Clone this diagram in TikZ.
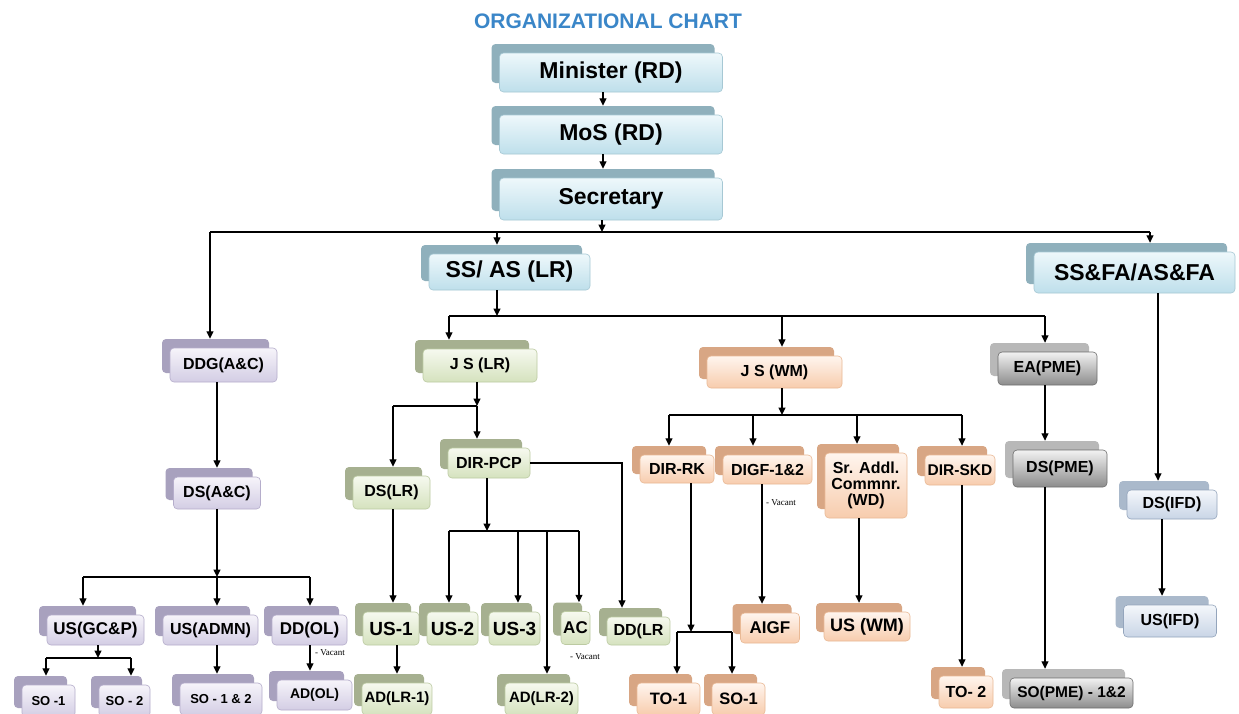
\documentclass[tikz,border=0pt]{standalone}
\usepackage{fontspec}
\setmainfont{Liberation Sans}
\newfontfamily\vacfont{Liberation Serif}
\usetikzlibrary{arrows.meta,calc}
\definecolor{titleblue}{HTML}{3A86C8}
\definecolor{bluB}{HTML}{8FB0BC}\definecolor{bluT}{HTML}{EEF8FB}\definecolor{bluBo}{HTML}{BEDFEB}\definecolor{bluD}{HTML}{A6C8D4}
\definecolor{purB}{HTML}{A8A1BE}\definecolor{purT}{HTML}{F6F4FA}\definecolor{purBo}{HTML}{D3CDE4}\definecolor{purD}{HTML}{B5ADCB}
\definecolor{grnB}{HTML}{A6B090}\definecolor{grnT}{HTML}{F6F9EF}\definecolor{grnBo}{HTML}{D5E2BE}\definecolor{grnD}{HTML}{BCCAA2}
\definecolor{orgB}{HTML}{D8A684}\definecolor{orgT}{HTML}{FFF5EE}\definecolor{orgBo}{HTML}{F7CCAD}\definecolor{orgD}{HTML}{E9B995}
\definecolor{gryB}{HTML}{B8B8B8}\definecolor{gryT}{HTML}{F2F2F2}\definecolor{gryBo}{HTML}{8C8C8C}\definecolor{gryD}{HTML}{6E6E6E}
\definecolor{ifdB}{HTML}{AAB9CB}\definecolor{ifdT}{HTML}{F4F7FB}\definecolor{ifdBo}{HTML}{C9D5E6}\definecolor{ifdD}{HTML}{94A5BC}
\tikzset{
  boxbase/.style={rounded corners=4pt, inner sep=0pt, align=center, font=\bfseries\fontsize{16pt}{16pt}\selectfont},
  fs/.style={font=\bfseries\fontsize{#1pt}{#1pt}\selectfont},
  blub/.style={boxbase, fill=bluB},
  bluf/.style={boxbase, draw=bluD, line width=0.6pt, top color=bluT, bottom color=bluBo},
  purb/.style={boxbase, fill=purB},
  purf/.style={boxbase, draw=purD, line width=0.6pt, top color=purT, bottom color=purBo},
  grnb/.style={boxbase, fill=grnB},
  grnf/.style={boxbase, draw=grnD, line width=0.6pt, top color=grnT, bottom color=grnBo},
  orgb/.style={boxbase, fill=orgB},
  orgf/.style={boxbase, draw=orgD, line width=0.6pt, top color=orgT, bottom color=orgBo},
  gryb/.style={boxbase, fill=gryB},
  gryf/.style={boxbase, draw=gryD, line width=0.6pt, top color=gryT, bottom color=gryBo},
  ifdb/.style={boxbase, fill=ifdB},
  ifdf/.style={boxbase, draw=ifdD, line width=0.6pt, top color=ifdT, bottom color=ifdBo},
  arr/.style={draw=black, line width=1.3pt, -{Triangle[length=7.5pt,width=7pt]}},
  ln/.style={draw=black, line width=1.3pt},
  vac/.style={font=\vacfont\fontsize{9pt}{9pt}\selectfont, inner sep=0pt, anchor=west},
}
% name, colour, cx, cy, w, h, extra style, text
\newcommand\orgbox[8]{%
  \node[#2b, minimum width=#5, minimum height=#6] (#1S) at ({#3-8},{#4-9}) {};
  \node[#2f, minimum width=#5, minimum height=#6, #7] (#1) at (#3,#4) {#8};}
\begin{document}
\begin{tikzpicture}[x=1pt,y=-1pt]
\useasboundingbox (0,0) rectangle (1239,713);
\clip (0,0) rectangle (1239,713);
\fill[white] (0,0) rectangle (1239,713);

\node[font=\bfseries\fontsize{21pt}{21pt}\selectfont, text=titleblue] (title) at (608,21) {ORGANIZATIONAL CHART};

% top
\orgbox{min}{blu}{611}{72.5}{223}{39}{fs=23}{Minister (RD)}
\orgbox{mos}{blu}{611}{134.5}{223}{39}{fs=23}{MoS (RD)}
\orgbox{sec}{blu}{611}{199}{223}{42}{fs=23}{Secretary}
\orgbox{ssas}{blu}{509.5}{272}{161}{36}{fs=23}{SS/ AS (LR)}
\orgbox{ssfa}{blu}{1134.5}{272.5}{201}{41}{fs=23}{SS\&FA/AS\&FA}

% second level
\orgbox{ddg}{pur}{223.5}{365}{107}{34}{}{DDG(A\&C)}
\orgbox{jslr}{grn}{480}{365.5}{114}{33}{}{J S (LR)}
\orgbox{jswm}{org}{774.5}{372}{135}{32}{}{J S (WM)}
\orgbox{ea}{gry}{1047.5}{368.5}{99}{33}{}{EA(PME)}

% purple branch
\orgbox{dsac}{pur}{217}{493}{87}{32}{}{DS(A\&C)}
\orgbox{usgc}{pur}{95.5}{630}{97}{30}{fs=17}{US(GC\&P)}
\orgbox{usad}{pur}{210.5}{630}{95}{30}{}{US(ADMN)}
\orgbox{ddol}{pur}{309.5}{630}{75}{30}{fs=17}{DD(OL)}
\orgbox{so1}{pur}{48.5}{701}{53}{32}{fs=13}{SO -1}
\orgbox{so2}{pur}{124.5}{701}{51}{32}{fs=13}{SO - 2}
\orgbox{so12}{pur}{221}{699}{82}{32}{fs=13}{SO - 1 \& 2}
\orgbox{adol}{pur}{314.5}{695}{75}{30}{fs=14}{AD(OL)}

% green branch
\orgbox{dslr}{grn}{391.5}{492.5}{77}{33}{}{DS(LR)}
\orgbox{dirpcp}{grn}{489}{463}{82}{30}{}{DIR-PCP}
\orgbox{us1}{grn}{391}{628.5}{56}{33}{fs=19}{US-1}
\orgbox{us2}{grn}{452.5}{628.5}{51}{33}{fs=19}{US-2}
\orgbox{us3}{grn}{514.5}{628.5}{51}{33}{fs=19}{US-3}
\orgbox{ac}{grn}{575.5}{628}{29}{33}{fs=17}{AC}
\orgbox{ddlr}{grn}{638.5}{631}{63}{28}{}{DD(LR}
\orgbox{adlra}{grn}{397}{699}{70}{32}{fs=15}{AD(LR-1)}
\orgbox{adlrb}{grn}{541.5}{699}{73}{32}{fs=15}{AD(LR-2)}

% orange branch
\orgbox{dirrk}{org}{677}{469}{74}{28}{}{DIR-RK}
\orgbox{digf}{org}{767.5}{469.5}{89}{29}{}{DIGF-1\&2}
\orgbox{sradd}{org}{866}{485.5}{82}{65}{}{Sr. Addl.\\Commnr.\\(WD)}
\orgbox{dirskd}{org}{960}{470}{70}{30}{fs=15.5}{DIR-SKD}
\orgbox{aigf}{org}{770}{628}{59}{30}{fs=17}{AIGF}
\orgbox{uswm}{org}{867}{626.5}{86}{29}{fs=18}{US (WM)}
\orgbox{toa}{org}{668.5}{699}{63}{32}{fs=16.5}{TO-1}
\orgbox{sob}{org}{738.5}{699}{53}{32}{fs=16.5}{SO-1}
\orgbox{tob}{org}{966}{692}{54}{32}{}{TO- 2}

% grey and ifd branch
\orgbox{dspme}{gry}{1060}{468.5}{94}{37}{}{DS(PME)}
\orgbox{sopme}{gry}{1071.5}{693}{123}{30}{fs=15.5}{SO(PME) - 1\&2}
\orgbox{dsifd}{ifd}{1172}{504.5}{90}{29}{}{DS(IFD)}
\orgbox{usifd}{ifd}{1170}{621}{93}{32}{}{US(IFD)}

% vacant notes
\node[vac] (v1) at (315,653) {- Vacant};
\node[vac] (v2) at (570,657) {- Vacant};
\node[vac] (v3) at (766,503) {- Vacant};

% connectors: top
\draw[arr] (mosS.north |- min.south) -- (mosS.north);
\draw[arr] (secS.north |- mos.south) -- (secS.north);
\coordinate (j1) at (602,232);
\coordinate (L1a) at (210,232);
\coordinate (L1b) at (1150,232);
\coordinate (L1s) at (497,232);
\draw[arr] (sec.south -| j1) -- (j1);
\draw[ln] (L1a) -- (L1b);
\draw[arr] (L1a) -- (L1a |- ddgS.north);
\draw[arr] (L1s) -- (L1s |- ssasS.north);
\draw[arr] (L1b) -- (L1b |- ssfaS.north);

% level 2 line
\coordinate (L2s) at (497,316);
\coordinate (L2a) at (449,316);
\coordinate (L2b) at (782,316);
\coordinate (L2c) at (1045,316);
\draw[arr] (ssas.south -| L2s) -- (L2s);
\draw[ln] (L2a) -- (L2c);
\draw[arr] (L2a) -- (L2a |- jslrS.north);
\draw[arr] (L2b) -- (L2b |- jswmS.north);
\draw[arr] (L2c) -- (L2c |- eaS.north);

% purple branch
\draw[arr] (dsac.north |- ddg.south) -- (dsac.north |- dsacS.north);
\coordinate (L3s) at (217,577);
\coordinate (L3a) at (83,577);
\coordinate (L3b) at (310,577);
\draw[arr] (dsac.south -| L3s) -- (L3s);
\draw[ln] (L3a) -- (L3b);
\draw[arr] (L3a) -- (L3a |- usgcS.north);
\draw[arr] (L3s) -- (L3s |- usadS.north);
\draw[arr] (L3b) -- (L3b |- ddolS.north);
\coordinate (L4s) at (98,658);
\coordinate (L4a) at (46,658);
\coordinate (L4b) at (131,658);
\draw[arr] (usgc.south -| L4s) -- (L4s);
\draw[ln] (L4a) -- (L4b);
\draw[arr] (L4a) -- (L4a |- so1S.north);
\draw[arr] (L4b) -- (L4b |- so2S.north);
\draw[arr] (L3s |- usad.south) -- (L3s |- so12S.north);
\draw[arr] (L3b |- ddol.south) -- (L3b |- adolS.north);

% green branch
\coordinate (J3) at (477,406);
\coordinate (J3a) at (393,406);
\draw[arr] (jslr.south -| J3) -- (J3);
\draw[ln] (J3a) -- (J3);
\draw[arr] (J3a) -- (J3a |- dslrS.north);
\draw[arr] (J3) -- (J3 |- dirpcpS.north);
\draw[arr] (J3a |- dslr.south) -- (J3a |- us1S.north);
\coordinate (K1) at (622,463);
\draw[arr] (dirpcp.east) -- (K1) -- (K1 |- ddlrS.north);
\coordinate (J4) at (487,531);
\coordinate (J4a) at (449,531);
\coordinate (J4b) at (579,531);
\coordinate (J4c) at (518,531);
\coordinate (J4d) at (547,531);
\draw[arr] (dirpcp.south -| J4) -- (J4);
\draw[ln] (J4a) -- (J4b);
\draw[arr] (J4a) -- (J4a |- us2S.north);
\draw[arr] (J4c) -- (J4c |- us3S.north);
\draw[arr] (J4b) -- (J4b |- acS.north);
\draw[arr] (J4d) -- (J4d |- adlrbS.north);
\draw[arr] (adlra.north |- us1.south) -- (adlra.north |- adlraS.north);

% orange branch
\coordinate (J5) at (782,415);
\coordinate (J5a) at (669,415);
\coordinate (J5b) at (753,415);
\coordinate (J5c) at (857,415);
\coordinate (J5d) at (962,415);
\draw[arr] (jswm.south -| J5) -- (J5);
\draw[ln] (J5a) -- (J5d);
\draw[arr] (J5a) -- (J5a |- dirrkS.north);
\draw[arr] (J5b) -- (J5b |- digfS.north);
\draw[arr] (J5c) -- (J5c |- sraddS.north);
\draw[arr] (J5d) -- (J5d |- dirskdS.north);
\coordinate (J6) at (691,632);
\coordinate (J6a) at (677,632);
\coordinate (J6b) at (732,632);
\draw[arr] (dirrk.south -| J6) -- (J6);
\draw[ln] (J6a) -- (J6b);
\draw[arr] (J6a) -- (J6a |- toaS.north);
\draw[arr] (J6b) -- (J6b |- sobS.north);
\draw[arr] (aigfS.north |- digf.south) -- (aigfS.north);
\draw[arr] (uswmS.north |- sradd.south) -- (uswmS.north);
\draw[arr] (J5d |- dirskd.south) -- (J5d |- tobS.north);

% grey / ifd branch
\draw[arr] (L2c |- ea.south) -- (L2c |- dspmeS.north);
\draw[arr] (L2c |- dspme.south) -- (L2c |- sopmeS.north);
\coordinate (R1) at (1158,0);
\draw[arr] (ssfa.south -| R1) -- (R1 |- dsifdS.north);
\draw[arr] (usifdS.north |- dsifd.south) -- (usifdS.north);
\end{tikzpicture}
\end{document}
